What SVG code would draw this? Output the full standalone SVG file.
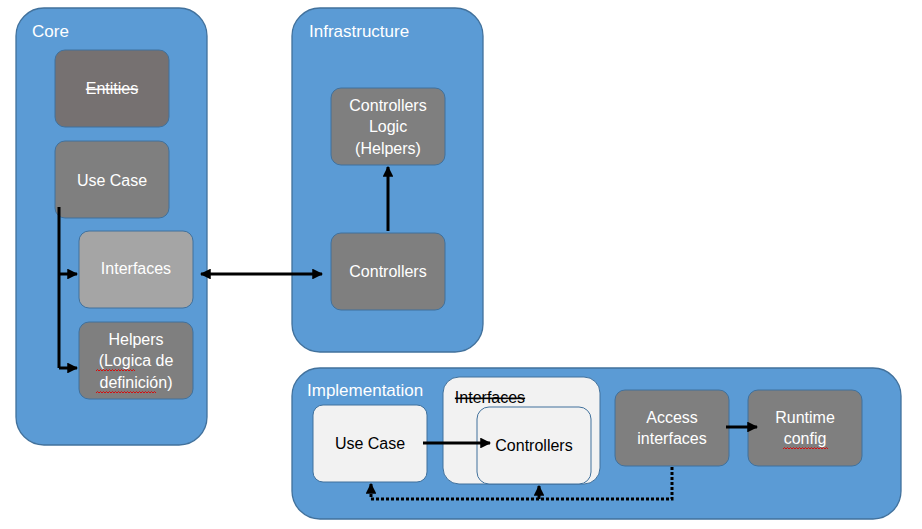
<svg xmlns="http://www.w3.org/2000/svg" width="922" height="529" viewBox="0 0 922 529">
<defs>
<style>
.grp{fill:#5B9BD5;stroke:#41719C;stroke-width:1.3}
.box{stroke:#41719C;stroke-width:1}
.dark{fill:#7F7F7F}
.ent{fill:#767171}
.mid{fill:#A5A5A5}
.light{fill:#F2F2F2}
text{font-family:"Liberation Sans",Arial,sans-serif;font-size:16px}
.w{fill:#FFFFFF;text-anchor:middle}
.k{fill:#000000;text-anchor:middle}
.title{fill:#FFFFFF;font-size:17px}
.st{text-decoration:line-through}
.ln{stroke:#000;stroke-width:3;fill:none}
.dot{stroke:#000;stroke-width:3;fill:none;stroke-dasharray:3 2}
.sq{stroke:#E00000;stroke-width:0.9;fill:none}
</style>
<marker id="ah" viewBox="0 0 10 10" refX="9" refY="5" markerWidth="3.6" markerHeight="3.6" orient="auto-start-reverse" markerUnits="strokeWidth">
<path d="M0,0 L10,5 L0,10 z" fill="#000"/>
</marker>
</defs>
<rect width="922" height="529" fill="#FFFFFF"/>

<g id="core">
<rect class="grp" x="16" y="8" width="191" height="437" rx="28"/>
<text class="title" x="32" y="37">Core</text>
</g>
<g id="infrastructure">
<rect class="grp" x="292" y="8" width="191" height="344" rx="28"/>
<text class="title" x="309" y="37">Infrastructure</text>
</g>
<g id="implementation">
<rect class="grp" x="292" y="368" width="609" height="151" rx="28"/>
<text class="title" x="307" y="396">Implementation</text>
</g>

<g id="entities">
<rect class="box ent" x="55" y="50" width="114" height="77" rx="10"/>
<text class="w st" x="112" y="94">Entities</text>
</g>
<g id="core-use-case">
<rect class="box dark" x="55" y="141" width="114" height="77" rx="10"/>
<text class="w" x="112" y="186">Use Case</text>
</g>
<g id="core-interfaces">
<rect class="box mid" x="79" y="231" width="114" height="77" rx="10"/>
<text class="w" x="136" y="274">Interfaces</text>
</g>
<g id="helpers">
<rect class="box dark" x="79" y="322" width="114" height="77" rx="10"/>
<text class="w" x="136" y="345">Helpers</text>
<text class="w" x="136" y="366">(Logica de</text>
<text class="w" x="136" y="388">definición)</text>
<path class="sq" d="M96,371 l1.5,-1.5 l1.5,1.5 l1.5,-1.5 l1.5,1.5 l1.5,-1.5 l1.5,1.5 l1.5,-1.5 l1.5,1.5 l1.5,-1.5 l1.5,1.5 l1.5,-1.5 l1.5,1.5 l1.5,-1.5 l1.5,1.5 l1.5,-1.5 l1.5,1.5 l1.5,-1.5 l1.5,1.5 l1.5,-1.5 l1.5,1.5 l1.5,-1.5 l1.5,1.5 l1.5,-1.5 l1.5,1.5 l1.5,-1.5 l1.5,1.5"/>
<path class="sq" d="M96,393 l1.5,-1.5 l1.5,1.5 l1.5,-1.5 l1.5,1.5 l1.5,-1.5 l1.5,1.5 l1.5,-1.5 l1.5,1.5 l1.5,-1.5 l1.5,1.5 l1.5,-1.5 l1.5,1.5 l1.5,-1.5 l1.5,1.5 l1.5,-1.5 l1.5,1.5 l1.5,-1.5 l1.5,1.5 l1.5,-1.5 l1.5,1.5 l1.5,-1.5 l1.5,1.5 l1.5,-1.5 l1.5,1.5 l1.5,-1.5 l1.5,1.5 l1.5,-1.5 l1.5,1.5 l1.5,-1.5 l1.5,1.5 l1.5,-1.5 l1.5,1.5 l1.5,-1.5 l1.5,1.5 l1.5,-1.5 l1.5,1.5 l1.5,-1.5 l1.5,1.5 l1.5,-1.5 l1.5,1.5"/>
</g>

<g id="controllers-logic">
<rect class="box dark" x="331" y="88" width="114" height="77" rx="10"/>
<text class="w" x="388" y="111">Controllers</text>
<text class="w" x="388" y="132">Logic</text>
<text class="w" x="388" y="154">(Helpers)</text>
</g>
<g id="infra-controllers">
<rect class="box dark" x="331" y="233" width="114" height="77" rx="10"/>
<text class="w" x="388" y="277">Controllers</text>
</g>

<g id="impl-use-case">
<rect class="box light" x="313" y="405" width="114" height="77" rx="10"/>
<text class="k" x="370" y="449">Use Case</text>
</g>
<g id="impl-interfaces">
<rect class="box light" x="443" y="377" width="157" height="107" rx="16"/>
<text class="k st" x="490" y="403">Interfaces</text>
</g>
<g id="impl-controllers">
<rect class="box light" x="477" y="407" width="114" height="77" rx="12"/>
<text class="k" x="534" y="451">Controllers</text>
</g>
<g id="access-interfaces">
<rect class="box dark" x="615" y="390" width="114" height="76" rx="10"/>
<text class="w" x="672" y="423">Access</text>
<text class="w" x="672" y="444">interfaces</text>
</g>
<g id="runtime-config">
<rect class="box dark" x="748" y="390" width="114" height="76" rx="10"/>
<text class="w" x="805" y="423">Runtime</text>
<text class="w" x="805" y="444">config</text>
<path class="sq" d="M783,449 l1.5,-1.5 l1.5,1.5 l1.5,-1.5 l1.5,1.5 l1.5,-1.5 l1.5,1.5 l1.5,-1.5 l1.5,1.5 l1.5,-1.5 l1.5,1.5 l1.5,-1.5 l1.5,1.5 l1.5,-1.5 l1.5,1.5 l1.5,-1.5 l1.5,1.5 l1.5,-1.5 l1.5,1.5 l1.5,-1.5 l1.5,1.5 l1.5,-1.5 l1.5,1.5 l1.5,-1.5 l1.5,1.5 l1.5,-1.5 l1.5,1.5 l1.5,-1.5 l1.5,1.5 l1.5,-1.5 l1.5,1.5"/>
</g>

<g id="connectors">
<path class="ln" d="M59,207 V368"/>
<path class="ln" d="M59,274 H77" marker-end="url(#ah)"/>
<path class="ln" d="M59,368 H77" marker-end="url(#ah)"/>
<path class="ln" d="M201,274 H322" marker-start="url(#ah)" marker-end="url(#ah)"/>
<path class="ln" d="M388,231 V167" marker-end="url(#ah)"/>
<path class="ln" d="M423,443 H490" marker-end="url(#ah)"/>
<path class="ln" d="M726,427 H757" marker-end="url(#ah)"/>
<path class="dot" d="M672,467 V499 H371 V484" marker-end="url(#ah)"/>
<path class="ln" d="M539,499 V486" marker-end="url(#ah)"/>
</g>
</svg>
